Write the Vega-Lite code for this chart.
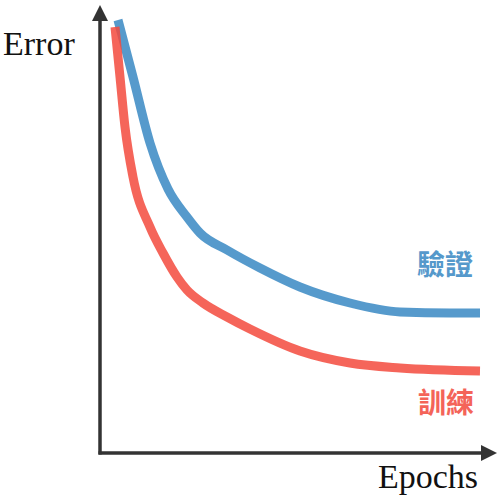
{
  "$schema": "https://vega.github.io/schema/vega-lite/v6.json",
  "width": 500,
  "height": 500,
  "padding": 0,
  "autosize": {"type": "fit", "contains": "padding"},
  "datasets": {
    "curves": [
      {"epoch": 18, "error": 433, "series": "驗證"},
      {"epoch": 33, "error": 376, "series": "驗證"},
      {"epoch": 50, "error": 310, "series": "驗證"},
      {"epoch": 68, "error": 264, "series": "驗證"},
      {"epoch": 87, "error": 236, "series": "驗證"},
      {"epoch": 100, "error": 220, "series": "驗證"},
      {"epoch": 127, "error": 203, "series": "驗證"},
      {"epoch": 160, "error": 185, "series": "驗證"},
      {"epoch": 200, "error": 166, "series": "驗證"},
      {"epoch": 250, "error": 150, "series": "驗證"},
      {"epoch": 300, "error": 141, "series": "驗證"},
      {"epoch": 350, "error": 140, "series": "驗證"},
      {"epoch": 380, "error": 140, "series": "驗證"},
      {"epoch": 15, "error": 426, "series": "訓練"},
      {"epoch": 20, "error": 376, "series": "訓練"},
      {"epoch": 25, "error": 326, "series": "訓練"},
      {"epoch": 33, "error": 276, "series": "訓練"},
      {"epoch": 50, "error": 226, "series": "訓練"},
      {"epoch": 63, "error": 200, "series": "訓練"},
      {"epoch": 77, "error": 176, "series": "訓練"},
      {"epoch": 87, "error": 163, "series": "訓練"},
      {"epoch": 103, "error": 150, "series": "訓練"},
      {"epoch": 127, "error": 136, "series": "訓練"},
      {"epoch": 150, "error": 124, "series": "訓練"},
      {"epoch": 200, "error": 102, "series": "訓練"},
      {"epoch": 250, "error": 90, "series": "訓練"},
      {"epoch": 300, "error": 85, "series": "訓練"},
      {"epoch": 380, "error": 82, "series": "訓練"}
    ],
    "axes": [
      {"x": 0, "y": -1.5, "x2": 0, "y2": 438},
      {"x": -1.5, "y": 0, "x2": 385, "y2": 0}
    ],
    "arrows": [
      {"x": 0, "y": 440, "dir": "up"},
      {"x": 389, "y": 0, "dir": "right"}
    ],
    "titles": [
      {"x": -97, "y": 398, "label": "Error", "align": "left"},
      {"x": 378, "y": -35, "label": "Epochs", "align": "right"}
    ],
    "labels": [
      {"x": 345, "y": 186, "label": "驗證", "series": "驗證"},
      {"x": 346, "y": 48, "label": "訓練", "series": "訓練"}
    ]
  },
  "encoding": {
    "x": {"type": "quantitative", "scale": {"domain": [-100, 400], "nice": false, "zero": false}, "axis": null},
    "y": {"type": "quantitative", "scale": {"domain": [-47, 453], "nice": false, "zero": false}, "axis": null}
  },
  "layer": [
    {
      "data": {"name": "axes"},
      "mark": {"type": "rule", "color": "#333333", "strokeWidth": 3.5},
      "encoding": {
        "x": {"field": "x", "type": "quantitative"},
        "y": {"field": "y", "type": "quantitative"},
        "x2": {"field": "x2"},
        "y2": {"field": "y2"}
      }
    },
    {
      "data": {"name": "arrows"},
      "transform": [{"filter": "datum.dir == 'up'"}],
      "mark": {"type": "point", "shape": "M0,-1L-1,1L1,1Z", "filled": true, "color": "#333333", "opacity": 1, "size": 256},
      "encoding": {
        "x": {"field": "x", "type": "quantitative"},
        "y": {"field": "y", "type": "quantitative"}
      }
    },
    {
      "data": {"name": "arrows"},
      "transform": [{"filter": "datum.dir == 'right'"}],
      "mark": {"type": "point", "shape": "M1,0L-1,-1L-1,1Z", "filled": true, "color": "#333333", "opacity": 1, "size": 256},
      "encoding": {
        "x": {"field": "x", "type": "quantitative"},
        "y": {"field": "y", "type": "quantitative"}
      }
    },
    {
      "data": {"name": "curves"},
      "transform": [{"filter": "datum.series == '驗證'"}],
      "mark": {"type": "line", "strokeWidth": 9, "interpolate": "monotone", "strokeCap": "butt", "opacity": 0.85},
      "encoding": {
        "x": {"field": "epoch", "type": "quantitative"},
        "y": {"field": "error", "type": "quantitative"},
        "color": {"field": "series", "type": "nominal", "scale": {"domain": ["驗證", "訓練"], "range": ["#3888C3", "#F34A3D"]}, "legend": null}
      }
    },
    {
      "data": {"name": "curves"},
      "transform": [{"filter": "datum.series == '訓練'"}],
      "mark": {"type": "line", "strokeWidth": 9, "interpolate": "monotone", "strokeCap": "butt", "opacity": 0.85},
      "encoding": {
        "x": {"field": "epoch", "type": "quantitative"},
        "y": {"field": "error", "type": "quantitative"},
        "color": {"field": "series", "type": "nominal", "legend": null}
      }
    },
    {
      "data": {"name": "titles"},
      "transform": [{"filter": "datum.align == 'left'"}],
      "mark": {"type": "text", "font": "Liberation Serif", "fontSize": 34, "align": "left", "baseline": "alphabetic", "color": "#111111"},
      "encoding": {
        "x": {"field": "x", "type": "quantitative"},
        "y": {"field": "y", "type": "quantitative"},
        "text": {"field": "label"}
      }
    },
    {
      "data": {"name": "titles"},
      "transform": [{"filter": "datum.align == 'right'"}],
      "mark": {"type": "text", "font": "Liberation Serif", "fontSize": 34, "align": "right", "baseline": "alphabetic", "color": "#111111"},
      "encoding": {
        "x": {"field": "x", "type": "quantitative"},
        "y": {"field": "y", "type": "quantitative"},
        "text": {"field": "label"}
      }
    },
    {
      "data": {"name": "labels"},
      "mark": {"type": "text", "font": "Noto Sans CJK TC", "fontSize": 28, "fontWeight": "bold", "align": "center", "baseline": "middle", "opacity": 0.85},
      "encoding": {
        "x": {"field": "x", "type": "quantitative"},
        "y": {"field": "y", "type": "quantitative"},
        "text": {"field": "label"},
        "color": {"field": "series", "type": "nominal", "legend": null}
      }
    }
  ],
  "config": {
    "background": "white",
    "view": {"stroke": null}
  }
}
